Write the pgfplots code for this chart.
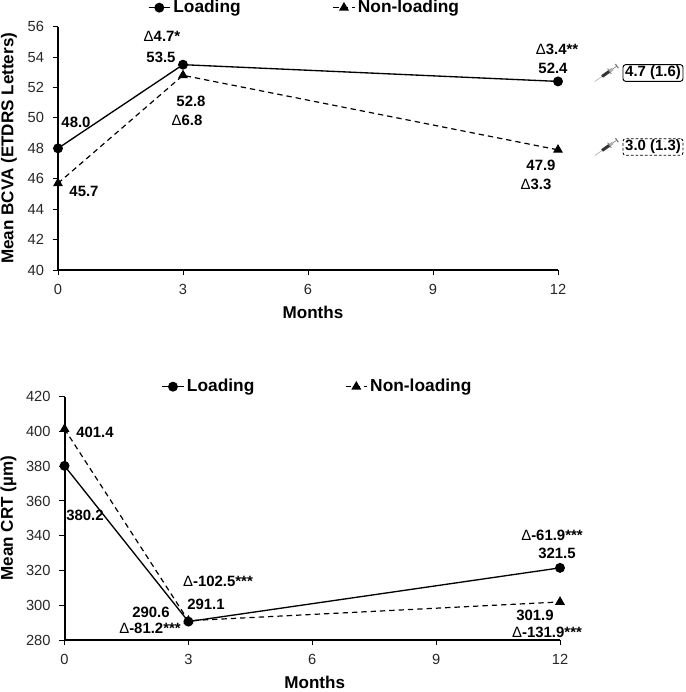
\documentclass[border=0pt]{standalone}
\usepackage{fontspec}
\setmainfont{Liberation Sans}
\usepackage{pgfplots}
\pgfplotsset{compat=1.18}

\definecolor{ticktext}{HTML}{262626}

% text sizes, px = 0.75pt
\newcommand{\lblfont}{\fontsize{11.2}{13}\selectfont\bfseries}
\newcommand{\D}{{\mdseries\char"0394}}

\pgfplotsset{
  panel/.style={
    scale only axis,
    axis lines=left,
    axis line style={-, line width=1.5pt},
    xmin=0, xmax=12,
    xtick={0,3,6,9,12},
    tick style={black, line width=0.7pt},
    tick align=outside,
    major tick length=4pt,
    minor tick num=0,
    /pgf/number format/assume math mode=true,
    tick label style={font=\fontsize{11}{12}\selectfont, text=ticktext},
    yticklabel style={xshift=-3pt},
    xticklabel style={yshift=-3pt},
    clip=false,
    xlabel=Months,
    label style={font=\fontsize{12.8}{14}\selectfont\bfseries},
    legend columns=2,
    legend cell align=left,
    legend style={draw=none, fill=none, inner sep=0pt, outer sep=0pt,
      font=\fontsize{13}{15}\selectfont\bfseries,
      nodes={inner xsep=2pt, inner ysep=0pt}},
    legend image code/.code={
      \draw[mark repeat=2, mark phase=2, ##1] plot coordinates {(0pt,0pt) (8pt,0pt) (16pt,0pt)};
    },
  },
  loading/.style={black, line width=1pt, solid, mark=*, mark size=3.2pt, mark options={solid, fill=black}},
  nonload/.style={black, line width=0.9pt, dashed, dash pattern=on 4pt off 3pt, mark=triangle*, mark size=3.4pt, mark options={solid, fill=black}},
}

% syringe, tip to the lower left
\newcommand{\syringe}[2]{%
  \begin{scope}[shift={(#1,#2)}, rotate=35]
    \draw[gray!70, line width=0.4pt] (-15,0) -- (-5,0);
    \fill[black!80] (-6,-1.5) rectangle (3,1.5);
    \fill[gray!60] (3,-1.5) rectangle (7,1.5);
    \draw[gray, line width=0.5pt] (7,0) -- (12,0);
    \draw[gray, line width=0.9pt] (12,-2.5) -- (12,2.5);
    \draw[gray, line width=0.7pt] (3,-3.2) -- (3,3.2);
  \end{scope}}

\newcommand{\lab}[3]{\node[font=\lblfont, inner sep=0pt] at (#1,692-#2) {#3};}

\begin{document}
\begin{tikzpicture}[x=0.75pt, y=0.75pt]
\path[use as bounding box] (0,0) rectangle (685,692);

% BCVA
\begin{axis}[
  panel,
  at={(43.5pt,316.5pt)}, anchor=south west,
  width=375pt, height=182.5pt,
  ymin=40, ymax=56,
  ytick={40,42,...,56},
  ylabel={Mean BCVA (ETDRS Letters)},
  xlabel style={at={(axis description cs:0.51,-0.173)}, anchor=center},
  ylabel style={at={(axis description cs:-0.098,0.5)}, anchor=center},
  legend style={at={(0.18,1.078)}, anchor=west, /tikz/column 2/.style={column sep=67pt}},
]
\addplot[loading] coordinates {(0,48.0) (3,53.5) (12,52.4)};
\addplot[nonload] coordinates {(0,45.7) (3,52.8) (12,47.9)};
\legend{Loading, Non-loading}
\end{axis}

% CRT
\begin{axis}[
  panel,
  at={(48.4pt,39pt)}, anchor=south west,
  width=371.6pt, height=182.5pt,
  ymin=280, ymax=420,
  ytick={280,300,...,420},
  ylabel={Mean CRT (\textmu m)},
  xlabel style={at={(axis description cs:0.505,-0.173)}, anchor=center},
  ylabel style={at={(axis description cs:-0.113,0.5)}, anchor=center},
  legend style={at={(0.196,1.041)}, anchor=west, /tikz/column 2/.style={column sep=66pt}},
]
\addplot[loading] coordinates {(0,380.2) (3,290.6) (12,321.5)};
\addplot[nonload] coordinates {(0,401.4) (3,291.1) (12,301.9)};
\legend{Loading, Non-loading}
\end{axis}

% value labels, top
\lab{162}{36}{\D4.7*}
\lab{161}{57}{53.5}
\lab{76}{122}{48.0}
\lab{84}{191}{45.7}
\lab{191}{101}{52.8}
\lab{187}{120}{\D6.8}
\lab{557}{49}{\D3.4**}
\lab{553}{68}{52.4}
\lab{541}{165}{47.9}
\lab{536}{184}{\D3.3}

% value labels, bottom
\lab{95}{432}{401.4}
\lab{85}{515}{380.2}
\lab{218}{581}{\D-102.5***}
\lab{206}{604}{291.1}
\lab{151}{612}{290.6}
\lab{150}{628}{\D-81.2***}
\lab{552}{535}{\D-61.9***}
\lab{557}{553}{321.5}
\lab{535}{615}{301.9}
\lab{547}{632}{\D-131.9***}

% injection counts
\syringe{607}{619}
\syringe{607}{545}
\node[draw, rounded corners=2pt, line width=0.7pt, font=\lblfont, minimum width=45pt, minimum height=12.5pt, inner sep=0pt] at (653,692-73) {4.7 (1.6)};
\node[draw, dashed, dash pattern=on 2pt off 1.5pt, rounded corners=2pt, line width=0.6pt, font=\lblfont, minimum width=45pt, minimum height=12.5pt, inner sep=0pt] at (653,692-147) {3.0 (1.3)};
\end{tikzpicture}
\end{document}
